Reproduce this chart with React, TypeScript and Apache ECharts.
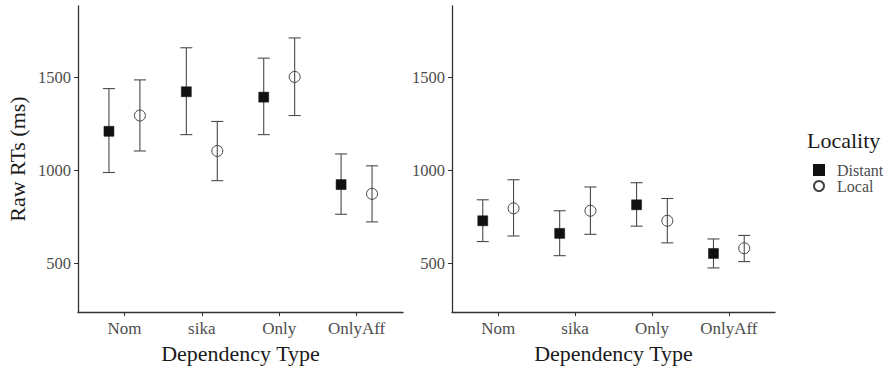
import React, { useEffect, useRef } from "react";
import * as echarts from "echarts";

const categories = ["Nom", "sika", "Only", "OnlyAff"];
const localities = ["Distant", "Local"];
const yTicks = [500, 1000, 1500];

// Left panel (raw RTs)
const rawDistantMean = [1211, 1424, 1395, 924];
const rawDistantLow = [989, 1193, 1193, 764];
const rawDistantHigh = [1441, 1661, 1605, 1089];
const rawLocalMean = [1296, 1105, 1504, 874];
const rawLocalLow = [1105, 945, 1296, 723];
const rawLocalHigh = [1488, 1264, 1714, 1025];

// Right panel
const rDistantMean = [729, 661, 815, 553];
const rDistantLow = [617, 541, 700, 475];
const rDistantHigh = [842, 783, 934, 631];
const rLocalMean = [796, 783, 729, 581];
const rLocalLow = [647, 656, 610, 509];
const rLocalHigh = [950, 911, 849, 650];

const DODGE = 0.2;
const FONT = "'Liberation Serif', 'DejaVu Serif', serif";
const TEXT = "#4d4d4d";
const TITLE = "#1a1a1a";
const AXIS = "#333";

function panelSeries(gi: number, dMean: number[], dLow: number[], dHigh: number[], lMean: number[], lLow: number[], lHigh: number[]) {
  const errData: number[][] = [];
  categories.forEach((_, i) => {
    errData.push([i + 1 - DODGE, dLow[i], dHigh[i]]);
    errData.push([i + 1 + DODGE, lLow[i], lHigh[i]]);
  });
  return [
    {
      type: "custom",
      xAxisIndex: gi,
      yAxisIndex: gi,
      data: errData,
      silent: true,
      z: 1,
      renderItem: (params: any, api: any) => {
        const x = api.value(0);
        const lo = api.coord([x, api.value(1)]);
        const hi = api.coord([x, api.value(2)]);
        const hw = 6;
        const style = { stroke: "#4a4a4a", lineWidth: 1.1 };
        return {
          type: "group",
          children: [
            { type: "line", shape: { x1: lo[0], y1: lo[1], x2: hi[0], y2: hi[1] }, style },
            { type: "line", shape: { x1: lo[0] - hw, y1: lo[1], x2: lo[0] + hw, y2: lo[1] }, style },
            { type: "line", shape: { x1: hi[0] - hw, y1: hi[1], x2: hi[0] + hw, y2: hi[1] }, style },
          ],
        };
      },
    },
    {
      type: "scatter",
      name: "Distant",
      xAxisIndex: gi,
      yAxisIndex: gi,
      symbol: "rect",
      symbolSize: 10,
      z: 3,
      itemStyle: { color: "#111", borderColor: "#111", borderWidth: 0.5, opacity: 1 },
      data: dMean.map((v, i) => [i + 1 - DODGE, v]),
    },
    {
      type: "scatter",
      name: "Local",
      xAxisIndex: gi,
      yAxisIndex: gi,
      symbol: "circle",
      symbolSize: 11,
      z: 3,
      itemStyle: { color: "rgba(255,255,255,0)", borderColor: "#444", borderWidth: 1, opacity: 1 },
      data: lMean.map((v, i) => [i + 1 + DODGE, v]),
    },
  ];
}

function xAxis(gi: number) {
  return {
    type: "value",
    gridIndex: gi,
    min: 0.4,
    max: 4.6,
    splitLine: { show: false },
    axisLine: { show: true, onZero: false, lineStyle: { color: AXIS, width: 1.3 } },
    axisTick: { show: true, length: 4, customValues: [1, 2, 3, 4], lineStyle: { color: AXIS } },
    axisLabel: {
      customValues: [1, 2, 3, 4],
      formatter: (v: number) => categories[Math.round(v) - 1] ?? "",
      color: TEXT,
      fontFamily: FONT,
      fontSize: 17,
      margin: 8,
    },
    name: "Dependency Type",
    nameLocation: "middle",
    nameGap: 25,
    nameTextStyle: { color: TITLE, fontFamily: FONT, fontSize: 22 },
  };
}

function yAxis(gi: number, withName: boolean) {
  return {
    type: "value",
    gridIndex: gi,
    min: 237,
    max: 1886,
    splitLine: { show: false },
    axisLine: { show: true, onZero: false, lineStyle: { color: AXIS, width: 1.3 } },
    axisTick: { show: true, length: 4, customValues: yTicks, lineStyle: { color: AXIS } },
    axisLabel: {
      customValues: yTicks,
      formatter: (v: number) => String(v),
      color: TEXT,
      fontFamily: FONT,
      fontSize: 16.5,
      margin: 7,
    },
    name: withName ? "Raw RTs (ms)" : "",
    nameLocation: "middle",
    nameGap: 50,
    nameTextStyle: { color: TITLE, fontFamily: FONT, fontSize: 22 },
  };
}

export default function App() {
  const ref = useRef<HTMLDivElement>(null);
  useEffect(() => {
    if (!ref.current) return;
    const chart = echarts.init(ref.current, undefined, { renderer: "svg" });
    chart.setOption({
      animation: false,
      backgroundColor: "#fff",
      grid: [
        { left: 78, top: 6, width: 325, height: 312 },
        { left: 452, top: 6, width: 323, height: 312 },
      ],
      xAxis: [xAxis(0), xAxis(1)],
      yAxis: [yAxis(0, true), yAxis(1, false)],
      title: {
        text: "Locality",
        left: 807,
        top: 129,
        padding: 0,
        textStyle: { color: TITLE, fontFamily: FONT, fontSize: 22, fontWeight: "normal" },
      },
      legend: {
        data: localities,
        orient: "vertical",
        left: 813,
        top: 162,
        padding: 0,
        itemWidth: 10,
        itemHeight: 10,
        itemGap: 0,
        textStyle: { color: TEXT, fontFamily: FONT, fontSize: 16, lineHeight: 16, padding: [0, 0, 0, 8] },
        selectedMode: false,
      },
      series: [
        ...panelSeries(0, rawDistantMean, rawDistantLow, rawDistantHigh, rawLocalMean, rawLocalLow, rawLocalHigh),
        ...panelSeries(1, rDistantMean, rDistantLow, rDistantHigh, rLocalMean, rLocalLow, rLocalHigh),
      ],
    });
    return () => chart.dispose();
  }, []);
  return <div ref={ref} style={{ width: 889, height: 369, position: "fixed", left: 0, top: 0 }} />;
}
